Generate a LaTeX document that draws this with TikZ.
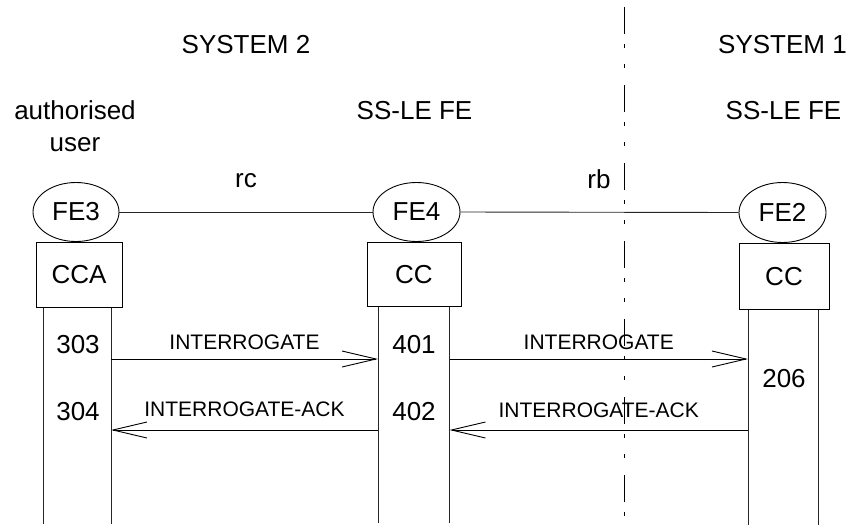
\documentclass[tikz,border=0pt]{standalone}
\usepackage{fontspec}
\setmainfont{Liberation Sans}
\usepackage{tikz}
\usetikzlibrary{shapes.geometric, arrows.meta, positioning, calc}
\tikzstyle{fe} = [ellipse, draw=black, line width=0.9pt, minimum width=87pt, minimum height=59pt, inner sep=0pt, font=\fontsize{26}{30}\selectfont]
\tikzstyle{entity} = [rectangle, draw=black, line width=0.9pt, minimum width=86pt, minimum height=65pt, inner sep=0pt, font=\fontsize{26}{30}\selectfont]
\tikzstyle{title} = [inner sep=0pt, anchor=base, font=\fontsize{26}{32}\selectfont]
\tikzstyle{msglabel} = [inner sep=0pt, font=\fontsize{21}{25}\selectfont]
\tikzstyle{life} = [line width=0.9pt, black!85]
\tikzstyle{msg} = [line width=0.9pt, -{Straight Barb[length=34pt,width=16pt]}]
\tikzstyle{border} = [line width=0.9pt, dash pattern=on 27pt off 10pt on 4pt off 16pt on 4pt off 17pt]

\begin{document}
\begin{tikzpicture}[x=1pt, y=-1pt]
    \useasboundingbox (0,0) rectangle (849,528);

    % Titulos
    \node (sys2) [title] at (246,53) {SYSTEM 2};
    \node (sys1) [title] at (782.5,53) {SYSTEM 1};
    \node (user) [title, anchor=center, align=center] at (75,126.5) {authorised\\user};
    \node (le4) [title] at (414.5,119.5) {SS-LE FE};
    \node (le2) [title] at (783.5,119.5) {SS-LE FE};

    % Entidades
    \node (fe3) [fe, minimum width=86pt] at (76,212) {FE3};
    \node (fe4) [fe] at (416.5,212) {FE4};
    \node (fe2) [fe, minimum height=60pt] at (782.5,212.5) {FE2};
    \node (cca) [entity, below=0pt of fe3, xshift=3pt] {CCA};
    \node (cc4) [entity, below=0pt of fe4, xshift=-2.5pt, minimum width=94pt, minimum height=64.5pt] {CC};
    \node (cc2) [entity, below=0pt of fe2, xshift=1.5pt, minimum width=90pt, minimum height=66.5pt] {CC};

    % Relaciones
    \draw [life] (fe3.east) -- (fe4.west);
    \draw [life] (fe4.east) -- (fe2.west);
    \node (rc) [title] at (246,187) {rc};
    \node (rb) [title] at (599,188) {rb};

    % Frontera entre sistemas
    \coordinate (divtop) at (624,7);
    \coordinate (divbot) at (624,525);
    \draw [border] (divtop) -- (divbot);

    % Lineas de vida
    \coordinate (ua) at (43,524);
    \coordinate (ub) at (111,524);
    \coordinate (va) at (378,523);
    \coordinate (vb) at (449.5,523);
    \coordinate (wa) at (748,525);
    \coordinate (wb) at (818,525);
    \draw [life] (cca.south -| ua) -- (ua);
    \draw [life] (cca.south -| ub) -- (ub);
    \draw [life] (cc4.south -| va) -- (va);
    \draw [life] (cc4.south -| vb) -- (vb);
    \draw [life] (cc2.south -| wa) -- (wa);
    \draw [life] (cc2.south -| wb) -- (wb);

    % Mensajes
    \coordinate (row1) at (0,359);
    \coordinate (row2) at (0,430);
    \draw [msg] (ub |- row1) -- node (m1) [msglabel, midway, above=8.5pt] {INTERROGATE} (va |- row1);
    \draw [msg] (vb |- row1) -- node (m2) [msglabel, midway, above=8.5pt] {INTERROGATE} (wa |- row1);
    \draw [msg] (va |- row2) -- node (m3) [msglabel, midway, above=13pt] {INTERROGATE-ACK} (ub |- row2);
    \draw [msg] (wa |- row2) -- node (m4) [msglabel, midway, above=11.5pt] {INTERROGATE-ACK} (vb |- row2);

    % Estados
    \node (s303) [title] at (78,353) {303};
    \node (s304) [title] at (78,420) {304};
    \node (s401) [title] at (414,353) {401};
    \node (s402) [title] at (414,420) {402};
    \node (s206) [title] at (784,387) {206};
\end{tikzpicture}
\end{document}
